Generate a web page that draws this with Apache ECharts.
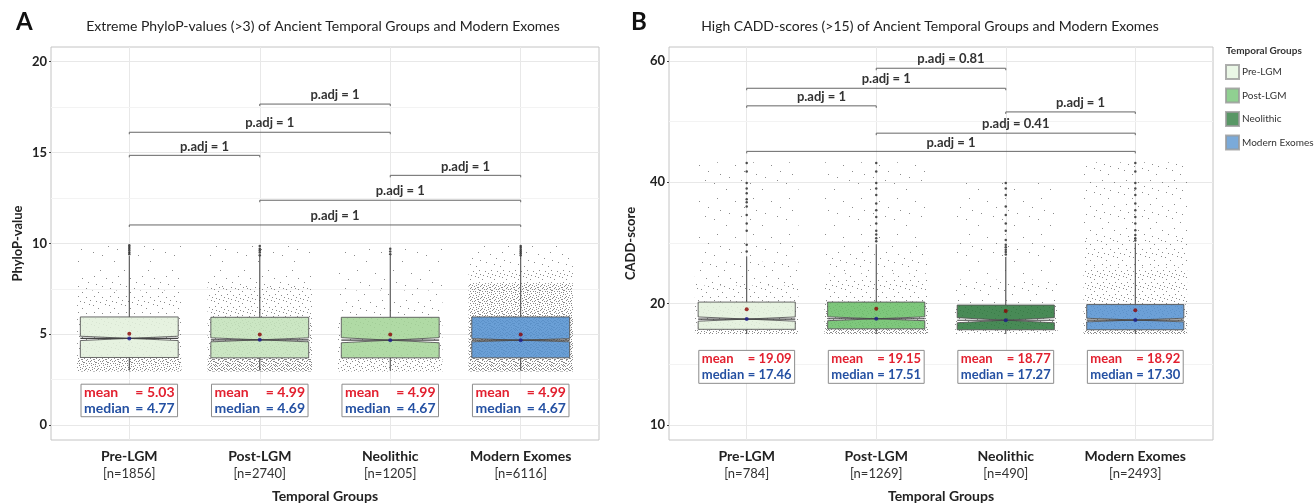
<!DOCTYPE html>
<html>
<head>
<meta charset="utf-8">
<title>PhyloP / CADD by temporal group</title>
<script src="https://cdn.jsdelivr.net/npm/echarts@6/dist/echarts.min.js"></script>
<style>
  html, body { margin: 0; padding: 0; background: #fff; }
  #chart { width: 1316px; height: 504px; }
</style>
</head>
<body>
<div id="chart"></div>
<script>
// groups
const categories = ['Pre-LGM', 'Post-LGM', 'Neolithic', 'Modern Exomes']
const countsA = [1856, 2740, 1205, 6116]
const countsB = [784, 1269, 490, 2493]

// panel A: PhyloP-values (>3)
const whiskerLowA = [3.0, 3.0, 3.0, 3.0]
const q1A = [3.72, 3.70, 3.70, 3.70]
const medianA = [4.77, 4.69, 4.67, 4.67]
const q3A = [5.95, 5.93, 5.93, 5.95]
const whiskerHighA = [9.3, 9.3, 9.3, 9.3]
const notchA = [0.12, 0.11, 0.14, 0.09]
const meanA = [5.03, 4.99, 4.99, 4.99]
const outliersA = [
  [9.4, 9.5, 9.6, 9.7, 9.8, 9.9],
  [9.35, 9.5, 9.6, 9.7, 9.85],
  [9.4, 9.55, 9.7],
  [9.35, 9.45, 9.55, 9.65, 9.75, 9.85]
]
// jitter density bands [low, high, level]
const jitterBandsA = [
  [[2.95, 3.7, 5], [3.7, 6.0, 3], [6.0, 7.4, 2], [7.4, 8.6, 1], [8.6, 9.9, 0]],
  [[2.95, 3.7, 6], [3.7, 6.0, 4], [6.0, 7.6, 3], [7.6, 8.6, 1], [8.6, 9.9, 0]],
  [[2.95, 3.7, 4], [3.7, 6.0, 3], [6.0, 7.4, 1], [7.4, 9.8, 0]],
  [[2.95, 3.7, 6], [3.7, 6.0, 6], [6.0, 7.8, 5], [7.8, 8.6, 3], [8.6, 9.9, 1]]
]
const bracketFromA = [2, 1, 1, 3, 2, 1]
const bracketToA = [3, 3, 2, 4, 4, 4]
const bracketYA = [17.66, 16.11, 14.84, 13.74, 12.37, 11.01]
const bracketLabelA = ['p.adj = 1', 'p.adj = 1', 'p.adj = 1', 'p.adj = 1', 'p.adj = 1', 'p.adj = 1']
const yTicksA = [0, 5, 10, 15, 20]
const yMinorA = [2.5, 7.5, 12.5, 17.5]

// panel B: CADD-scores (>15)
const whiskerLowB = [15.0, 15.0, 15.0, 15.0]
const q1B = [15.77, 15.85, 15.7, 15.7]
const medianB = [17.46, 17.51, 17.27, 17.30]
const q3B = [20.26, 20.26, 19.77, 19.85]
const whiskerHighB = [27.8, 29.8, 27.7, 30.0]
const notchB = [0.35, 0.32, 0.42, 0.3]
const meanB = [19.09, 19.15, 18.77, 18.92]
const outliersB = [
  [28.6, 29.7, 32.0, 33.2, 34.6, 36.0, 36.7, 37.2, 38.2, 39.0, 39.9, 41.8, 43.2],
  [30.3, 30.8, 31.4, 32.0, 33.2, 34.3, 35.4, 36.5, 37.9, 39.0, 39.9, 41.8, 43.2],
  [28.1, 28.5, 28.9, 29.3, 29.7, 30.5, 32.0, 33.2, 34.6, 36.0, 37.9, 39.0, 39.9],
  [30.4, 30.8, 31.3, 32.1, 33.2, 34.3, 35.4, 36.5, 37.9, 39.0, 39.9, 41.8, 43.2]
]
const jitterBandsB = [
  [[15.0, 15.8, 5], [15.8, 20.3, 3], [20.3, 23.0, 2], [23.0, 27.0, 1], [27.0, 43.3, 0]],
  [[15.0, 15.9, 6], [15.9, 20.3, 4], [20.3, 25.0, 2], [25.0, 30.0, 1], [30.0, 43.3, 0]],
  [[15.0, 15.8, 4], [15.8, 19.8, 3], [19.8, 24.0, 1], [24.0, 40.0, 0]],
  [[15.0, 15.7, 6], [15.7, 19.9, 4], [19.9, 26.0, 3], [26.0, 30.5, 2], [30.5, 43.3, 1]]
]
const bracketFromB = [2, 1, 1, 3, 2, 1]
const bracketToB = [3, 3, 2, 4, 4, 4]
const bracketYB = [58.8, 55.5, 52.6, 51.6, 48.1, 45.1]
const bracketLabelB = ['p.adj = 0.81', 'p.adj = 1', 'p.adj = 1', 'p.adj = 1', 'p.adj = 0.41', 'p.adj = 1']
const yTicksB = [0, 20, 40, 60]
const yTickLabelsB = ['10', '20', '40', '60']
const yMinorB = [10, 30, 50]

// colours
const fillA = ['#e2f0dc', '#c4e3bb', '#a5d598', '#5592d0']
const fillB = ['#e2f0dc', '#6cbf6a', '#2f7a3f', '#5893d1']
const legendColors = ['#e5f5e0', '#74c476', '#2e7d3e', '#5a95d0']

// texture for the jittered points
const dotOffsets = [[2,3],[8,9],[10,1],[5,7],[0,10],[7,0],[11,6],[3,11],[4,1],[9,4],[1,6],[6,10],[10,11],[2,8],[7,5],[11,2],
  [0,2],[5,3],[8,7],[3,5],[10,8],[6,1],[1,9],[9,11],[4,9],[11,4],[7,3],[2,0],[6,6],[0,5],[9,1],[3,8],[8,11],[5,10],[11,9],[1,3],[10,5],[4,4],[7,8],[2,11]]
const dotLevels = [
  { tile: 36, count: 8 }, { tile: 24, count: 8 }, { tile: 16, count: 8 }, { tile: 12, count: 8 },
  { tile: 12, count: 16 }, { tile: 12, count: 28 }, { tile: 12, count: 40 }
]
function dotPattern({ tile, count }) {
  const c = document.createElement('canvas')
  c.width = tile
  c.height = tile
  const ctx = c.getContext('2d')
  ctx.fillStyle = 'rgba(60,60,60,0.6)'
  const s = tile / 12
  dotOffsets.slice(0, count).forEach(([ox, oy]) => ctx.fillRect(Math.floor(ox * s), Math.floor(oy * s), 1, 1))
  return { image: c, repeat: 'repeat' }
}
const patterns = dotLevels.map(dotPattern)

const FONT = 'Lato, "Noto Sans", sans-serif'
const BOX_HW = 0.375
const JIT_HW = 0.4

function flatBands(bands) {
  const rows = []
  bands.forEach((list, i) => list.forEach(([lo, hi, lv]) => rows.push([i + 1, lo, hi, lv])))
  return rows
}
function flatPoints(lists) {
  const rows = []
  lists.forEach((list, i) => list.forEach((v) => rows.push([i + 1, v])))
  return rows
}

function jitterSeries(idx, bands) {
  return {
    type: 'custom', xAxisIndex: idx, yAxisIndex: idx, z: 1, silent: true,
    data: flatBands(bands),
    renderItem(params, api) {
      const x = api.value(0)
      const a = api.coord([x - JIT_HW, api.value(2)])
      const b = api.coord([x + JIT_HW, api.value(1)])
      return {
        type: 'rect',
        shape: { x: a[0], y: a[1], width: b[0] - a[0], height: b[1] - a[1] },
        style: { fill: patterns[api.value(3)] }
      }
    }
  }
}

function boxSeries(idx, colors, lo, q1, med, q3, hi, notch) {
  return {
    type: 'custom', xAxisIndex: idx, yAxisIndex: idx, z: 3, silent: true,
    data: categories.map((c, i) => [i + 1, lo[i], q1[i], med[i], q3[i], hi[i], notch[i]]),
    renderItem(params, api) {
      const x = api.value(0)
      const m = api.value(3), n = api.value(6)
      const P = (a, b) => api.coord([a, b])
      const L = x - BOX_HW, R = x + BOX_HW
      const line = (p1, p2, w) => ({
        type: 'line', shape: { x1: p1[0], y1: p1[1], x2: p2[0], y2: p2[1] },
        style: { stroke: '#444', lineWidth: w }
      })
      return {
        type: 'group',
        children: [
          line(P(x, api.value(4)), P(x, api.value(5)), 1),
          line(P(x, api.value(2)), P(x, api.value(1)), 1),
          {
            type: 'polygon',
            shape: {
              points: [P(L, api.value(4)), P(R, api.value(4)), P(R, m + n), P(x, m), P(R, m - n),
                P(R, api.value(2)), P(L, api.value(2)), P(L, m - n), P(x, m), P(L, m + n)]
            },
            style: { fill: colors[params.dataIndex], opacity: 0.88, stroke: '#555', lineWidth: 1 }
          },
          line(P(L, m), P(R, m), 1.2)
        ]
      }
    }
  }
}

function bracketSeries(idx, from, to, ys, labels) {
  return {
    type: 'custom', xAxisIndex: idx, yAxisIndex: idx, z: 5, silent: true,
    data: from.map((f, i) => [f, to[i], ys[i]]),
    renderItem(params, api) {
      const a = api.coord([api.value(0), api.value(2)])
      const b = api.coord([api.value(1), api.value(2)])
      const st = { stroke: '#666', lineWidth: 1 }
      return {
        type: 'group',
        children: [
          { type: 'line', shape: { x1: a[0], y1: a[1], x2: b[0], y2: b[1] }, style: st },
          { type: 'line', shape: { x1: a[0], y1: a[1], x2: a[0], y2: a[1] + 2 }, style: st },
          { type: 'line', shape: { x1: b[0], y1: b[1], x2: b[0], y2: b[1] + 2 }, style: st },
          {
            type: 'text',
            style: {
              text: labels[params.dataIndex], x: (a[0] + b[0]) / 2 + 10, y: a[1] - 9,
              align: 'center', verticalAlign: 'middle', fill: '#333',
              fontSize: 13, fontWeight: 'bold', fontFamily: FONT
            }
          }
        ]
      }
    }
  }
}

function statSeries(idx, means, medians, top, bottom, size) {
  return {
    type: 'custom', xAxisIndex: idx, yAxisIndex: idx, z: 6, silent: true,
    data: categories.map((c, i) => [i + 1, means[i], medians[i]]),
    renderItem(params, api) {
      const x = api.value(0)
      const a = api.coord([x - 0.37, top])
      const b = api.coord([x + 0.37, bottom])
      const h = b[1] - a[1]
      const txt = (text, px, py, align, fill) => ({
        type: 'text',
        style: { text, x: px, y: py, align, verticalAlign: 'middle', fill, fontSize: size, fontWeight: 'bold', fontFamily: FONT }
      })
      const y1 = a[1] + h * 0.26, y2 = a[1] + h * 0.74
      return {
        type: 'group',
        children: [
          { type: 'rect', shape: { x: a[0], y: a[1], width: b[0] - a[0], height: h }, style: { fill: '#fff', stroke: '#8c8c8c', lineWidth: 1 } },
          txt('mean', a[0] + 3, y1, 'left', '#e2202f'),
          txt('= ' + api.value(1).toFixed(2), b[0] - 3, y1, 'right', '#e2202f'),
          txt('median', a[0] + 3, y2, 'left', '#2450a2'),
          txt('= ' + api.value(2).toFixed(2), b[0] - 3, y2, 'right', '#2450a2')
        ]
      }
    }
  }
}

function gridLines(yMajor, yMinor) {
  return {
    silent: true, z: 0, symbol: ['none', 'none'], label: { show: false }, animation: false,
    lineStyle: { type: 'solid', width: 1, color: '#e8e8e8' },
    data: [
      ...[1, 2, 3, 4].map((v) => ({ xAxis: v })),
      ...yMajor.map((v) => ({ yAxis: v })),
      ...yMinor.map((v) => ({ yAxis: v, lineStyle: { color: '#f3f3f3', type: 'solid', width: 1 } }))
    ]
  }
}

function xAxis(idx, counts) {
  return {
    type: 'value', gridIndex: idx, min: 0.4, max: 4.6,
    name: 'Temporal Groups', nameLocation: 'middle', nameGap: 49,
    nameTextStyle: { fontSize: 14, fontWeight: 'bold', color: '#222', fontFamily: FONT },
    axisLine: { show: false }, splitLine: { show: false },
    axisTick: { show: false, customValues: [1, 2, 3, 4] },
    axisLabel: {
      customValues: [1, 2, 3, 4], margin: 8,
      formatter: (v) => `{c|${categories[v - 1]}}\n{n|[n=${counts[v - 1]}]}`,
      rich: {
        c: { fontSize: 14, fontWeight: 'bold', color: '#222', fontFamily: FONT, lineHeight: 17 },
        n: { fontSize: 13, color: '#333', fontFamily: FONT, lineHeight: 17 }
      }
    }
  }
}

function yAxis(idx, min, max, ticks, name, gap, fmt) {
  return {
    type: 'value', gridIndex: idx, min, max,
    name, nameLocation: 'middle', nameRotate: 90, nameGap: gap,
    nameTextStyle: { fontSize: 13, fontWeight: 'bold', color: '#222', fontFamily: FONT },
    axisLine: { show: false }, splitLine: { show: false },
    axisTick: { show: true, length: 2, customValues: ticks, lineStyle: { color: '#444' } },
    axisLabel: {
      customValues: ticks, margin: 4, fontSize: 13, fontWeight: 'bold', color: '#222', fontFamily: FONT,
      formatter: fmt || ((v) => String(v))
    }
  }
}

const option = {
  animation: false,
  backgroundColor: '#fff',
  textStyle: { fontFamily: FONT },
  title: [
    { text: 'A', left: 11, top: 5, textStyle: { fontSize: 24, fontWeight: 'bold', color: '#111', fontFamily: FONT } },
    { text: 'B', left: 626, top: 5, textStyle: { fontSize: 24, fontWeight: 'bold', color: '#111', fontFamily: FONT } },
    { text: 'Extreme PhyloP-values (>3) of Ancient Temporal Groups and Modern Exomes', left: 318, top: 14, textAlign: 'center',
      textStyle: { fontSize: 14, fontWeight: 'normal', color: '#222', fontFamily: FONT } },
    { text: 'High CADD-scores (>15) of Ancient Temporal Groups and Modern Exomes', left: 925, top: 14, textAlign: 'center',
      textStyle: { fontSize: 14, fontWeight: 'normal', color: '#222', fontFamily: FONT } },
    { text: 'Temporal Groups', left: 1221, top: 41, textStyle: { fontSize: 10, fontWeight: 'bold', color: '#333', fontFamily: FONT } }
  ],
  legend: {
    orient: 'vertical', left: 1220, top: 59, icon: 'rect', itemWidth: 13, itemHeight: 14, itemGap: 7.5,
    selectedMode: false, data: categories,
    textStyle: { fontSize: 10, color: '#333', fontFamily: FONT, padding: [0, 0, 0, -2] }
  },
  grid: [
    { left: 51, top: 47, width: 548, height: 393, show: true, borderColor: '#c4c4c4', borderWidth: 1, backgroundColor: '#fff', outerBoundsMode: 'none' },
    { left: 669, top: 47, width: 544, height: 393, show: true, borderColor: '#c4c4c4', borderWidth: 1, backgroundColor: '#fff', outerBoundsMode: 'none' }
  ],
  xAxis: [xAxis(0, countsA), xAxis(1, countsB)],
  yAxis: [
    yAxis(0, -0.82, 20.8, yTicksA, 'PhyloP-value', 27),
    yAxis(1, -2.47, 62.3, yTicksB, 'CADD-score', 32, (v) => yTickLabelsB[yTicksB.indexOf(v)])
  ],
  series: [
    jitterSeries(0, jitterBandsA),
    boxSeries(0, fillA, whiskerLowA, q1A, medianA, q3A, whiskerHighA, notchA),
    {
      type: 'scatter', xAxisIndex: 0, yAxisIndex: 0, z: 4, silent: true, symbolSize: 2.5,
      itemStyle: { color: '#222' }, data: flatPoints(outliersA), markLine: gridLines(yTicksA, yMinorA)
    },
    { type: 'scatter', xAxisIndex: 0, yAxisIndex: 0, z: 5, silent: true, symbolSize: 4, itemStyle: { color: '#8b0000' }, data: meanA.map((v, i) => [i + 1, v]) },
    { type: 'scatter', xAxisIndex: 0, yAxisIndex: 0, z: 5, silent: true, symbolSize: 4, itemStyle: { color: '#1c1c8c' }, data: medianA.map((v, i) => [i + 1, v]) },
    bracketSeries(0, bracketFromA, bracketToA, bracketYA, bracketLabelA),
    statSeries(0, meanA, medianA, 2.25, 0.46, 14),

    jitterSeries(1, jitterBandsB),
    boxSeries(1, fillB, whiskerLowB, q1B, medianB, q3B, whiskerHighB, notchB),
    {
      type: 'scatter', xAxisIndex: 1, yAxisIndex: 1, z: 4, silent: true, symbolSize: 2.5,
      itemStyle: { color: '#222' }, data: flatPoints(outliersB), markLine: gridLines(yTicksB, yMinorB)
    },
    { type: 'scatter', xAxisIndex: 1, yAxisIndex: 1, z: 5, silent: true, symbolSize: 4, itemStyle: { color: '#8b0000' }, data: meanB.map((v, i) => [i + 1, v]) },
    { type: 'scatter', xAxisIndex: 1, yAxisIndex: 1, z: 5, silent: true, symbolSize: 4, itemStyle: { color: '#1c1c8c' }, data: medianB.map((v, i) => [i + 1, v]) },
    bracketSeries(1, bracketFromB, bracketToB, bracketYB, bracketLabelB),
    statSeries(1, meanB, medianB, 12.3, 6.87, 13),

    // legend entries only
    ...categories.map((c, i) => ({
      type: 'scatter', name: c, xAxisIndex: 1, yAxisIndex: 1, data: [],
      itemStyle: { color: legendColors[i], borderColor: '#9a9a9a', borderWidth: 1 }
    }))
  ]
}

const chart = echarts.init(document.getElementById('chart'))
chart.setOption(option)
</script>
</body>
</html>
